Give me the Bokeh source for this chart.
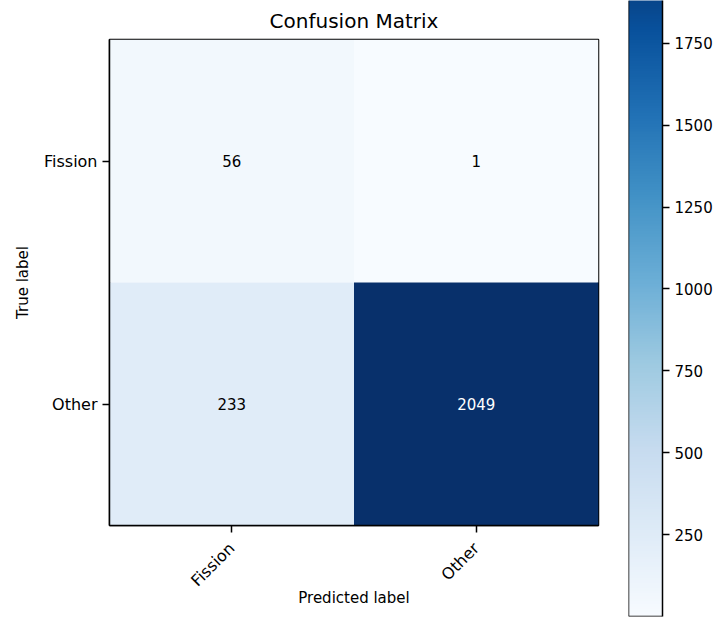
import math
import numpy as np
from bokeh.plotting import figure
from bokeh.models import ColumnDataSource, LinearColorMapper, FixedTicker, Label, Span
from bokeh.palettes import Blues256
from bokeh.embed import file_html
from bokeh.resources import INLINE
from bokeh.core.properties import value

# Confusion matrix for the two-class classifier
classes = ["Fission", "Other"]
true_labels = ["Fission", "Fission", "Other", "Other"]
pred_labels = ["Fission", "Other", "Fission", "Other"]
counts = [56, 1, 233, 2049]
cbar_ticks = [250, 500, 750, 1000, 1250, 1500, 1750]

FONT = "DejaVu Sans"
palette = list(reversed(Blues256))  # light -> dark, like matplotlib "Blues"
low, high = min(counts), max(counts)
mapper = LinearColorMapper(palette=palette, low=low, high=high)

thresh = high / 2
src = ColumnDataSource(dict(
    x=[classes.index(c) for c in pred_labels],
    y=[classes.index(c) for c in true_labels],
    count=counts,
    label=[str(c) for c in counts],
    tc=["white" if c > thresh else "black" for c in counts],
))

p = figure(width=610, height=617, x_range=(-0.5, 1.5), y_range=(1.5, -0.5),
           output_backend="svg", toolbar_location=None,
           min_border_left=109, min_border_right=12,
           min_border_top=37, min_border_bottom=92,
           title="Confusion Matrix")
p.rect(x="x", y="y", width=1, height=1, source=src,
       fill_color={"field": "count", "transform": mapper}, line_color=None)
p.text(x="x", y="y", text="label", text_color="tc", source=src,
       text_align="center", text_baseline="middle",
       text_font=value(FONT), text_font_size="15px")

p.title.text_font = FONT
p.title.text_font_size = "20px"
p.title.text_font_style = "normal"
p.title.align = "center"
p.title.text_color = "black"
p.title.standoff = 13

p.grid.visible = False
p.outline_line_color = "black"
p.outline_line_width = 1.5
p.outline_line_alpha = 1.0

for ax in (p.xaxis[0], p.yaxis[0]):
    ax.ticker = FixedTicker(ticks=[0, 1])
    ax.major_label_overrides = {0: classes[0], 1: classes[1]}
    ax.minor_tick_line_color = None
    ax.major_tick_in = 0
    ax.major_tick_out = 7
    ax.major_tick_line_width = 1.5
    ax.axis_line_color = "black"
    ax.axis_line_width = 1.5
    ax.major_label_text_font = FONT
    ax.major_label_text_font_size = "16px"
    ax.major_label_text_color = "black"
    ax.axis_label_text_font = FONT
    ax.axis_label_text_font_size = "15px"
    ax.axis_label_text_font_style = "normal"
    ax.axis_label_text_color = "black"

p.xaxis.axis_label = "Predicted label"
p.yaxis.axis_label = "True label"
p.xaxis.major_label_orientation = math.pi / 4
p.xaxis.major_label_standoff = 13
p.xaxis.axis_label_standoff = -11
p.yaxis.axis_label_standoff = 9

# figure-level heading, mostly outside the visible area
for ch, xo in (("(", 12), (")", 121)):
    p.add_layout(Label(x=xo, y=521, x_units="screen", y_units="screen", text=ch,
                       text_font=FONT, text_font_size="40px",
                       text_baseline="alphabetic", text_color="black"))

# colour bar, placed to the right of the matrix
cb = figure(width=108, height=617, x_range=(0, 1), y_range=(low, 1880),
            output_backend="svg", toolbar_location=None,
            min_border_left=18, min_border_right=56,
            min_border_top=0, min_border_bottom=1,
            y_axis_location="right", x_axis_location=None)
cb.styles = {"position": "absolute", "left": "610px", "top": "0px"}
grad = np.linspace(low, high, 512).reshape(-1, 1)
cb.image(image=[grad], x=0, y=low, dw=1, dh=high - low, color_mapper=mapper)
cb.grid.visible = False
cb.outline_line_color = None
ya = cb.yaxis[0]
ya.ticker = FixedTicker(ticks=cbar_ticks)
ya.minor_tick_line_color = None
ya.major_tick_in = 0
ya.major_tick_out = 7
ya.major_tick_line_width = 1.5
ya.axis_line_color = "black"
ya.axis_line_width = 1.5
ya.major_label_text_font = FONT
ya.major_label_text_font_size = "15px"
ya.major_label_text_color = "black"
cb.add_layout(Span(location=0, dimension="height", line_color="black", line_width=1.5))
cb.add_layout(Span(location=low, dimension="width", line_color="black", line_width=1.5))

open("out.html", "w").write(file_html([p, cb], INLINE))
